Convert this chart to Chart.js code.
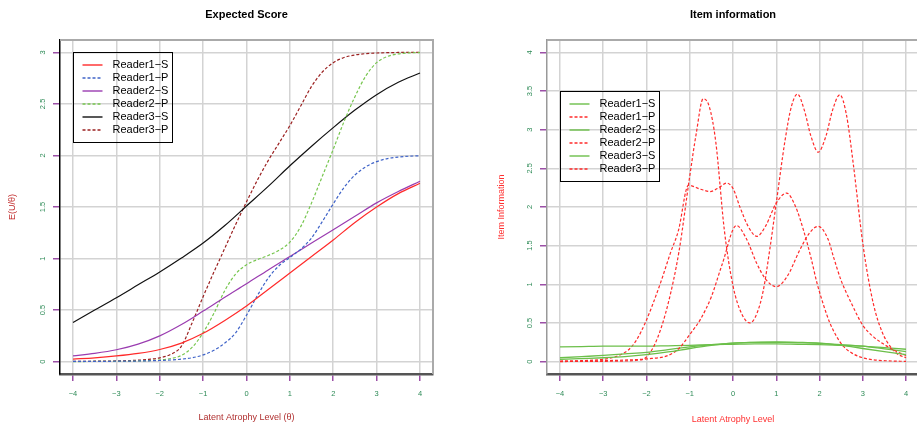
<!DOCTYPE html>
<html>
<head>
<meta charset="utf-8">
<script src="https://cdn.jsdelivr.net/npm/chart.js@4.4.1/dist/chart.umd.min.js"></script>
<style>
html, body { margin: 0; padding: 0; background: #fff; overflow: hidden; }
#left { position: absolute; left: 0; top: 0; width: 458px; height: 428px; }
#right { position: absolute; left: 458px; top: 0; width: 462px; height: 428px; }
</style>
</head>
<body>
<div id="left"><canvas id="score" width="458" height="428"></canvas></div>
<div id="right"><canvas id="info" width="462" height="428"></canvas></div>
<script>
// theta grids
const thetaQuarter = [-4, -3.75, -3.5, -3.25, -3, -2.75, -2.5, -2.25, -2, -1.75, -1.5, -1.25, -1, -0.75, -0.5, -0.25,
    0, 0.25, 0.5, 0.75, 1, 1.25, 1.5, 1.75, 2, 2.25, 2.5, 2.75, 3, 3.25, 3.5, 3.75, 4];
const thetaHalf = [-4, -3.5, -3, -2.5, -2, -1.5, -1, -0.5, 0, 0.5, 1, 1.5, 2, 2.5, 3, 3.5, 4];

const readerLabels = ['Reader1\u2212S', 'Reader1\u2212P', 'Reader2\u2212S', 'Reader2\u2212P', 'Reader3\u2212S', 'Reader3\u2212P'];

// expected score
const score1S = [0.025, 0.037, 0.055, 0.08, 0.118, 0.18, 0.275, 0.4, 0.54, 0.7, 0.86, 1.02, 1.18, 1.35, 1.5, 1.63, 1.73];
const score2S = [0.055, 0.08, 0.115, 0.17, 0.25, 0.36, 0.49, 0.625, 0.755, 0.89, 1.02, 1.15, 1.28, 1.41, 1.54, 1.65, 1.75];
const score3S = [0.38, 0.5, 0.62, 0.745, 0.87, 1.005, 1.15, 1.32, 1.51, 1.7, 1.9, 2.09, 2.27, 2.44, 2.59, 2.71, 2.8];
const score1P = [0.002, 0.002, 0.003, 0.003, 0.004, 0.005, 0.006, 0.008, 0.011, 0.016, 0.024, 0.038, 0.065, 0.11, 0.18, 0.28,
    0.45, 0.64, 0.81, 0.93, 1.01, 1.09, 1.2, 1.36, 1.53, 1.69, 1.81, 1.89, 1.94, 1.97, 1.985, 1.993, 1.997];
const score2P = [0.001, 0.001, 0.002, 0.002, 0.003, 0.004, 0.006, 0.01, 0.016, 0.03, 0.06, 0.14, 0.28, 0.47, 0.69, 0.85,
    0.94, 0.99, 1.03, 1.08, 1.16, 1.31, 1.54, 1.8, 2.06, 2.33, 2.57, 2.77, 2.9, 2.96, 2.985, 2.995, 2.998];
const score3P = [0.002, 0.003, 0.004, 0.005, 0.007, 0.01, 0.014, 0.022, 0.037, 0.07, 0.15, 0.38, 0.63, 0.87, 1.1, 1.33,
    1.55, 1.76, 1.95, 2.12, 2.29, 2.48, 2.67, 2.81, 2.9, 2.95, 2.975, 2.988, 2.994, 2.997, 2.999, 3, 3];

// item information
const info1S = [0.03, 0.04, 0.05, 0.065, 0.09, 0.125, 0.17, 0.21, 0.24, 0.25, 0.255, 0.25, 0.24, 0.21, 0.17, 0.13, 0.09];
const info2S = [0.05, 0.065, 0.08, 0.1, 0.12, 0.155, 0.19, 0.22, 0.24, 0.25, 0.25, 0.245, 0.235, 0.22, 0.2, 0.165, 0.13];
const info3S = [0.19, 0.195, 0.2, 0.2, 0.2, 0.205, 0.21, 0.22, 0.225, 0.23, 0.23, 0.225, 0.22, 0.21, 0.2, 0.18, 0.16];
const info1PTheta = [-4, -3.5, -3, -2.5, -2, -1.5, -1.25, -1, -0.75, -0.5, -0.25, 0.08, 0.3, 0.55, 0.75, 1, 1.25, 1.55,
    1.75, 1.97, 2.2, 2.32, 2.5, 2.75, 3, 3.25, 3.5, 3.75, 4];
const info1P = [0.005, 0.008, 0.012, 0.02, 0.035, 0.08, 0.17, 0.35, 0.55, 0.84, 1.26, 1.76, 1.6, 1.27, 1.07, 0.97, 1.1, 1.45,
    1.65, 1.75, 1.58, 1.36, 1.05, 0.74, 0.47, 0.32, 0.22, 0.14, 0.08];
const info2PTheta = [-4, -3, -2.5, -2.25, -2, -1.75, -1.5, -1.25, -1, -0.85, -0.69, -0.55, -0.4, -0.2, 0, 0.2, 0.39, 0.55,
    0.7, 0.85, 1, 1.2, 1.35, 1.49, 1.65, 1.8, 1.97, 2.15, 2.3, 2.47, 2.62, 2.78, 3.01, 3.24, 3.45, 3.63, 3.8, 4];
const info2P = [0.001, 0.004, 0.008, 0.015, 0.06, 0.3, 0.75, 1.42, 2.4, 2.95, 3.4, 3.3, 2.85, 1.7, 0.98, 0.62, 0.5, 0.62,
    0.92, 1.45, 2.05, 2.85, 3.3, 3.46, 3.25, 2.92, 2.71, 2.92, 3.25, 3.45, 3.2, 2.56, 1.49, 0.76, 0.38, 0.2, 0.1, 0.05];
const info3PTheta = [-4, -3.5, -3, -2.8, -2.6, -2.42, -2.23, -2.03, -1.85, -1.65, -1.45, -1.26, -1.03, -0.75, -0.53, -0.3,
    -0.15, 0, 0.16, 0.35, 0.55, 0.75, 1, 1.24, 1.45, 1.63, 1.8, 1.94, 2.1, 2.24, 2.4, 2.55, 2.75, 3, 3.3, 3.6, 4];
const info3P = [0.005, 0.012, 0.03, 0.05, 0.09, 0.15, 0.28, 0.5, 0.75, 1.06, 1.4, 1.7, 2.28, 2.23, 2.2, 2.26,
    2.31, 2.24, 2.0, 1.75, 1.62, 1.75, 2.05, 2.18, 2.0, 1.7, 1.35, 1.02, 0.72, 0.5, 0.32, 0.2, 0.11, 0.05, 0.02, 0.01, 0.003];

// axis ticks
const thetaTicks = [-4, -3, -2, -1, 0, 1, 2, 3, 4];
const scoreTicks = [0, 0.5, 1, 1.5, 2, 2.5, 3];
const infoTicks = [0, 0.5, 1, 1.5, 2, 2.5, 3, 3.5, 4];

const FONT = '"Liberation Sans", Arial, Helvetica, sans-serif';
const TICKGREEN = '#2e8b57';
const TICKPURPLE = '#9b4fa6';
const GRID = '#d3d3d3';

const pts = (xs, ys) => xs.map((x, i) => ({x: x, y: ys[i]}));
const fmt = v => (v < 0 ? '\u2212' + Math.abs(v) : String(v));

const line = (label, xs, ys, color, dashed, width) => ({
    label: label,
    data: pts(xs, ys),
    borderColor: color,
    borderWidth: width || 1.2,
    borderDash: dashed ? [3, 2] : [],
    pointRadius: 0,
    fill: false,
    cubicInterpolationMode: 'monotone'
});

// legend in a box, anchored at data coords like R's legend(x, y, ...)
const boxLegend = {
    id: 'boxLegend',
    afterDraw(chart, args, o) {
        const {ctx, scales: {x, y}} = chart;
        const left = Math.round(x.getPixelForValue(o.atX));
        const top = Math.round(y.getPixelForValue(o.atY));
        ctx.save();
        ctx.strokeStyle = '#000';
        ctx.lineWidth = 1;
        ctx.setLineDash([]);
        ctx.strokeRect(left + 0.5, top + 0.5, o.width, o.height);
        ctx.font = '11px ' + FONT;
        ctx.textBaseline = 'middle';
        chart.data.datasets.forEach((ds, i) => {
            const ry = top + 13 + 13 * i;
            ctx.strokeStyle = ds.borderColor;
            ctx.lineWidth = 1.4;
            ctx.setLineDash(ds.borderDash);
            ctx.beginPath();
            ctx.moveTo(left + 9.5, ry);
            ctx.lineTo(left + 29.5, ry);
            ctx.stroke();
            ctx.setLineDash([]);
            ctx.fillStyle = '#000';
            ctx.fillText(ds.label, left + 39.5, ry);
        });
        ctx.restore();
    }
};

// top and right edges of the plot box
const plotBox = {
    id: 'plotBox',
    afterDraw(chart) {
        const {ctx, chartArea: a} = chart;
        ctx.save();
        ctx.strokeStyle = '#aaaaaa';
        ctx.lineWidth = 2;
        ctx.beginPath();
        ctx.moveTo(a.left, a.top);
        ctx.lineTo(a.right, a.top);
        ctx.lineTo(a.right, a.bottom);
        ctx.stroke();
        ctx.restore();
    }
};

const xAxis = (title, color, padBottom) => ({
    type: 'linear',
    min: -4.3,
    max: 4.3,
    afterBuildTicks: s => { s.ticks = thetaTicks.map(v => ({value: v})); },
    afterFit: s => { s.height = 54; },
    grid: {color: GRID, lineWidth: 1.5, tickLength: 7, tickColor: TICKPURPLE, tickWidth: 1.5},
    border: {color: '#555555', width: 2.5},
    ticks: {autoSkip: false, maxRotation: 0, padding: 8.5, color: TICKGREEN, font: {family: FONT, size: 7.5}, callback: fmt},
    title: {display: true, text: title, color: color, font: {family: FONT, size: 9}, padding: {top: 0, bottom: padBottom}}
});

const yAxis = (ticks, max, width, title, color, padTop, borderColor) => ({
    type: 'linear',
    min: -0.04 * max,
    max: max * 1.04,
    afterBuildTicks: s => { s.ticks = ticks.map(v => ({value: v})); },
    afterFit: s => { s.width = width; },
    grid: {color: GRID, lineWidth: 1.5, tickLength: 7, tickColor: TICKPURPLE, tickWidth: 1.5},
    border: {color: borderColor, width: 1.5},
    ticks: {autoSkip: false, minRotation: 90, maxRotation: 90, crossAlign: 'center', padding: 5,
        color: TICKGREEN, font: {family: FONT, size: 7.5}, callback: fmt},
    title: {display: true, text: title, color: color, font: {family: FONT, size: 9}, padding: {top: padTop, bottom: 0}}
});

const plotTitle = text => ({
    display: true, text: text, fullSize: false, color: '#000',
    font: {family: FONT, size: 11, weight: 'bold'},
    padding: {top: 8, bottom: 18.8}
});

new Chart(document.getElementById('score'), {
    type: 'line',
    data: {
        datasets: [
            line(readerLabels[0], thetaHalf, score1S, '#ff2a2a', false),
            line(readerLabels[1], thetaQuarter, score1P, '#3f63c8', true),
            line(readerLabels[2], thetaHalf, score2S, '#9a3cb0', false),
            line(readerLabels[3], thetaQuarter, score2P, '#77c64f', true),
            line(readerLabels[4], thetaHalf, score3S, '#111111', false),
            line(readerLabels[5], thetaQuarter, score3P, '#9b2020', true)
        ]
    },
    options: {
        responsive: false,
        animation: false,
        layout: {padding: {left: 0, top: 0, right: 25, bottom: 0}},
        scales: {
            x: xAxis('Latent Atrophy Level (\u03b8)', '#b03030', 4.6),
            y: yAxis(scoreTicks, 3, 60, 'E(U/\u03b8)', '#c02828', 7.6, '#000000')
        },
        plugins: {
            legend: {display: false},
            tooltip: {enabled: false},
            title: plotTitle('Expected Score'),
            boxLegend: {atX: -4, atY: 3, width: 99, height: 90}
        }
    },
    plugins: [boxLegend, plotBox]
});

new Chart(document.getElementById('info'), {
    type: 'line',
    data: {
        datasets: [
            line(readerLabels[0], thetaHalf, info1S, '#6cbf4a', false, 1.3),
            line(readerLabels[1], info1PTheta, info1P, '#ff2a2a', true),
            line(readerLabels[2], thetaHalf, info2S, '#6cbf4a', false, 1.3),
            line(readerLabels[3], info2PTheta, info2P, '#ff2a2a', true),
            line(readerLabels[4], thetaHalf, info3S, '#6cbf4a', false, 1.3),
            line(readerLabels[5], info3PTheta, info3P, '#ff2a2a', true)
        ]
    },
    options: {
        responsive: false,
        animation: false,
        layout: {padding: {left: 0, top: 0, right: 1, bottom: 0}},
        scales: {
            x: xAxis('Latent Atrophy Level', '#ff3030', 2.6),
            y: yAxis(infoTicks, 4, 89, 'Item Information', '#ff3030', 38.6, '#999999')
        },
        plugins: {
            legend: {display: false},
            tooltip: {enabled: false},
            title: plotTitle('Item information'),
            boxLegend: {atX: -4, atY: 3.5, width: 99, height: 90}
        }
    },
    plugins: [boxLegend, plotBox]
});
</script>
</body>
</html>
